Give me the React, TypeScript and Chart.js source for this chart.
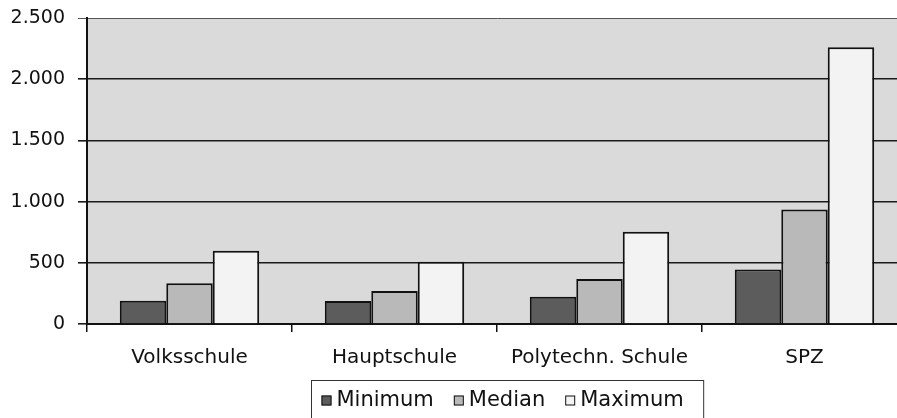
import React, { useEffect, useRef } from "react";
import { Chart, registerables } from "chart.js";

Chart.register(...registerables);

const categories = ["Volksschule", "Hauptschule", "Polytechn. Schule", "SPZ"];
const seriesNames = ["Minimum", "Median", "Maximum"];
const minimumValues = [190, 188, 223, 446];
const medianValues = [332, 269, 367, 936];
const maximumValues = [598, 508, 753, 2262];
const yTickLabels = ["0", "500", "1.000", "1.500", "2.000", "2.500"];

const seriesColors = ["#5c5c5c", "#b9b9b9", "#f3f3f3"];
const plotBg = "#dadada";
const FONT = '"DejaVu Sans", "Liberation Sans", Arial, sans-serif';

const bgPlugin = {
  id: "plotBg",
  beforeDraw(chart: any) {
    const { ctx, chartArea } = chart;
    ctx.save();
    ctx.fillStyle = "#ffffff";
    ctx.fillRect(0, 0, chart.width, chart.height);
    ctx.fillStyle = plotBg;
    ctx.fillRect(chartArea.left, chartArea.top, chartArea.right - chartArea.left, chartArea.bottom - chartArea.top);
    ctx.restore();
  },
};

const legendPlugin = {
  id: "boxLegend",
  afterDraw(chart: any) {
    const { ctx, chartArea } = chart;
    ctx.save();
    ctx.font = "21px " + FONT;
    ctx.textBaseline = "middle";
    const icon = 10;
    const iconGap = 5;
    const itemGap = 20;
    const padL = 10;
    const padR = 20;
    const widths = seriesNames.map((n) => ctx.measureText(n).width);
    const total = padL + widths.reduce((a, w) => a + icon + iconGap + w, 0) + itemGap * (seriesNames.length - 1) + padR;
    const centerX = (chartArea.left + chartArea.right) / 2 + 10;
    const left = Math.round(centerX - total / 2) + 0.5;
    const top = chartArea.bottom + 56.5;
    const midY = top + 20;
    ctx.strokeStyle = "#333";
    ctx.lineWidth = 1;
    ctx.strokeRect(left, top, total, 60);
    let x = left + padL;
    seriesNames.forEach((n, i) => {
      ctx.fillStyle = seriesColors[i];
      ctx.fillRect(x, midY - icon / 2, icon, icon);
      ctx.strokeStyle = "#111";
      ctx.strokeRect(x + 0.5, midY - icon / 2 + 0.5, icon - 1, icon - 1);
      x += icon + iconGap;
      ctx.fillStyle = "#111";
      ctx.fillText(n, x, midY);
      x += widths[i] + itemGap;
    });
    ctx.restore();
  },
};

export default function App() {
  const ref = useRef<HTMLCanvasElement | null>(null);
  useEffect(() => {
    if (!ref.current) return;
    const datasetsSrc = [minimumValues, medianValues, maximumValues];
    const chart = new Chart(ref.current, {
      type: "bar",
      data: {
        labels: categories,
        datasets: datasetsSrc.map((d, i) => ({
          label: seriesNames[i],
          data: d,
          backgroundColor: seriesColors[i],
          borderColor: "#111",
          borderWidth: 2,
          barPercentage: 1,
          categoryPercentage: 0.68,
        })),
      },
      options: {
        animation: false,
        responsive: false,
        devicePixelRatio: 1,
        layout: { padding: { top: 18, right: 3, left: 0, bottom: 0 } },
        plugins: { legend: { display: false }, tooltip: { enabled: false } },
        scales: {
          x: {
            afterFit(scale: any) {
              scale.height = 94;
              scale.paddingLeft = 0;
              scale.paddingRight = 0;
            },
            grid: { drawOnChartArea: false, tickLength: 8, color: "#111", lineWidth: 1.5, offset: true },
            border: { display: true, color: "#111", width: 2 },
            ticks: { font: { family: FONT, size: 20 }, color: "#111", padding: 14 },
          },
          y: {
            min: 0,
            max: 2500,
            afterFit(scale: any) {
              scale.width = 87;
              scale.paddingTop = 0;
              scale.paddingBottom = 0;
            },
            ticks: {
              stepSize: 500,
              font: { family: FONT, size: 19 },
              color: "#111",
              padding: 13,
              callback: (_v: any, i: number) => yTickLabels[i],
            },
            grid: {
              tickLength: 9,
              color: (c: any) => (c.tick && c.tick.value === 2500 ? "#555" : "#1a1a1a"),
              lineWidth: (c: any) => (c.tick && c.tick.value === 2500 ? 1 : 1.6),
            },
            border: { display: true, color: "#111", width: 2 },
          },
        },
      },
      plugins: [bgPlugin, legendPlugin],
    });
    return () => chart.destroy();
  }, []);
  return (
    <div style={{ position: "fixed", left: 0, top: 0, width: 897, height: 418, overflow: "hidden", background: "#fff" }}>
      <canvas ref={ref} width={910} height={418} style={{ width: 910, height: 418, display: "block" }} />
    </div>
  );
}
